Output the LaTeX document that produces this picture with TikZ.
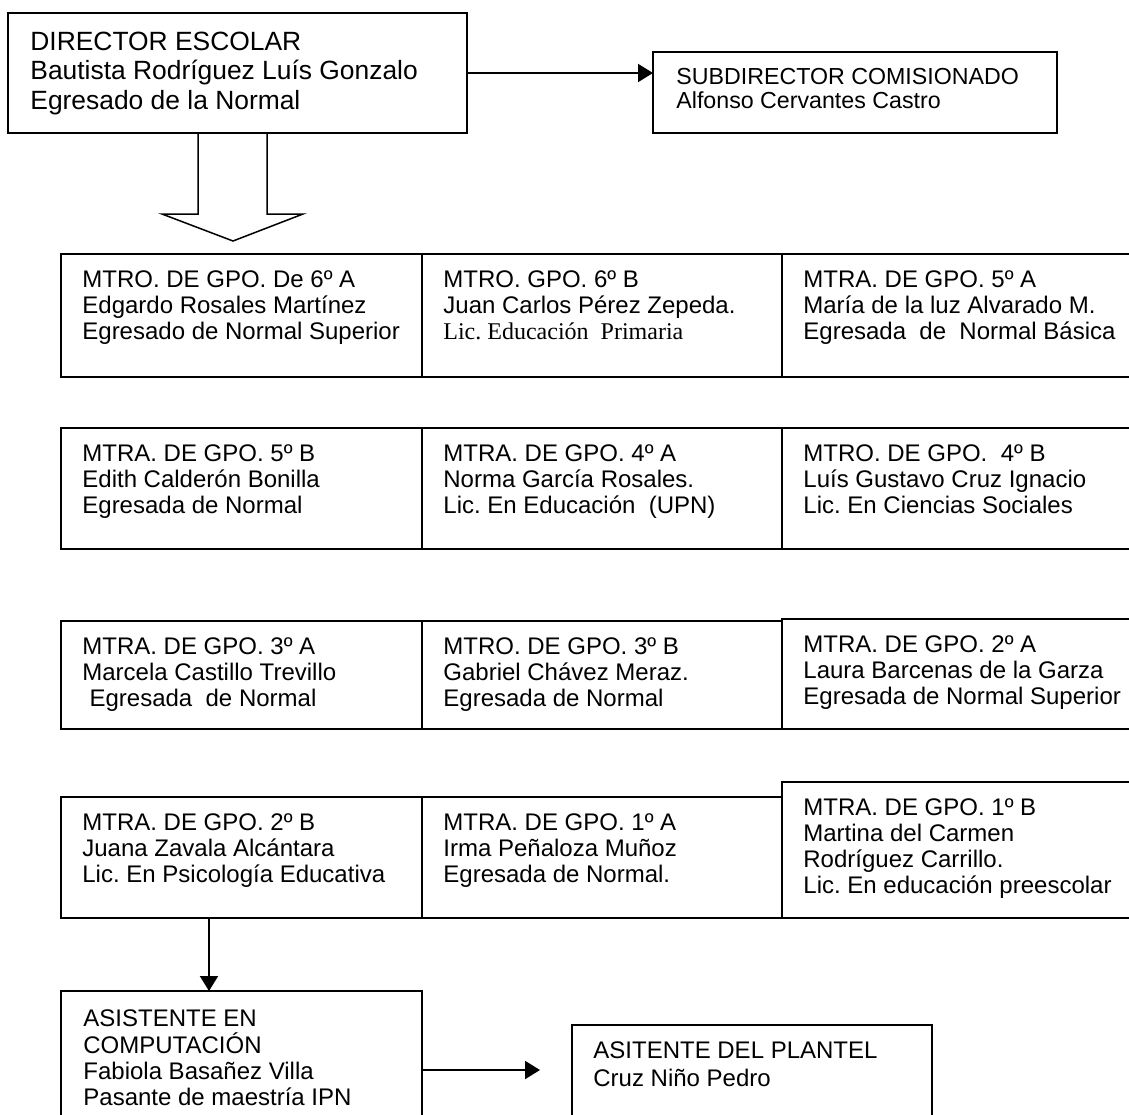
\documentclass[tikz,border=0pt]{standalone}
\usepackage{fontspec}
\setmainfont{Liberation Sans}
\newfontfamily\tnr{Liberation Serif}
\usetikzlibrary{arrows.meta}

\tikzset{
  cell/.style={draw, line width=1pt, anchor=north west, outer sep=0pt, inner sep=0pt},
  txt/.style={anchor=north west, inner sep=0pt, align=left},
  arr/.style={line width=1pt, -{Triangle[length=7.5pt,width=9pt]}},
}
% one group box: name, x, y, width, height, text
\newcommand\groupbox[6]{%
  \node[cell, minimum width=#4, minimum height=#5] (#1) at (#2,#3) {};
  \node[txt, font=\fontsize{12}{13}\selectfont] (#1-t) at (#2+21,#3+16) {#6};
}

\begin{document}
\frenchspacing
\begin{tikzpicture}[x=0.5pt, y=-0.5pt]
    \useasboundingbox (0,0) rectangle (1129,1114);
    % Director and subdirector
    \node[cell, minimum width=229.5pt, minimum height=60pt] (dir) at (8,13) {};
    \node[txt, font=\fontsize{13.2}{14.75}\selectfont] (dir-t) at (30,31.5)
        {DIRECTOR ESCOLAR\\Bautista Rodríguez Luís Gonzalo\\Egresado de la Normal};
    \node[cell, minimum width=202pt, minimum height=40.5pt] (sub) at (653,52) {};
    \node[txt, font=\fontsize{11.6}{12}\selectfont] (sub-t) at (676,67.5)
        {SUBDIRECTOR COMISIONADO\\Alfonso Cervantes Castro};
    \draw[arr] (dir.east) -- (dir.east -| sub.west);
    % Hollow arrow down to the groups
    \draw[line width=0.75pt] (198,133) -- (198,214) -- (162,214) -- (233,241)
        -- (303,214) -- (267,214) -- (267,133);
    % Teachers, one box per group
    \groupbox{c6a}{61}{254}{180.5pt}{61.5pt}{MTRO. DE GPO. De 6º A\\Edgardo Rosales Martínez\\Egresado de Normal Superior}
    \groupbox{c6b}{422}{254}{180pt}{61.5pt}{MTRO. GPO. 6º B\\Juan Carlos Pérez Zepeda.\\{\tnr Lic. Educación~ Primaria}}
    \groupbox{c5a}{782}{254}{177pt}{61.5pt}{MTRA. DE GPO. 5º A\\María de la luz Alvarado M.\\Egresada~ de~ Normal Básica}
    \groupbox{c5b}{61}{428}{180.5pt}{60.5pt}{MTRA. DE GPO. 5º B\\Edith Calderón Bonilla\\Egresada de Normal}
    \groupbox{c4a}{422}{428}{180pt}{60.5pt}{MTRA. DE GPO. 4º A\\Norma García Rosales.\\Lic. En Educación~ (UPN)}
    \groupbox{c4b}{782}{428}{177pt}{60.5pt}{MTRO. DE GPO.~ 4º B\\Luís Gustavo Cruz Ignacio\\Lic. En Ciencias Sociales}
    \groupbox{c3a}{61}{621}{180.5pt}{54pt}{MTRA. DE GPO. 3º A\\Marcela Castillo Trevillo\\\hspace*{.3em}Egresada~ de Normal}
    \groupbox{c3b}{422}{621}{180pt}{54pt}{MTRO. DE GPO. 3º B\\Gabriel Chávez Meraz.\\Egresada de Normal}
    \groupbox{c2a}{782}{619}{177pt}{55pt}{MTRA. DE GPO. 2º A\\Laura Barcenas de la Garza\\Egresada de Normal Superior}
    \groupbox{c2b}{61}{797}{180.5pt}{60.5pt}{MTRA. DE GPO. 2º B\\Juana Zavala Alcántara\\Lic. En Psicología Educativa}
    \groupbox{c1a}{422}{797}{180pt}{60.5pt}{MTRA. DE GPO. 1º A\\Irma Peñaloza Muñoz\\Egresada de Normal.}
    \groupbox{c1b}{782}{782}{177pt}{68pt}{MTRA. DE GPO. 1º B\\Martina del Carmen\\Rodríguez Carrillo.\\Lic. En educación preescolar}
    % Assistants
    \node[cell, minimum width=180.5pt, minimum height=64.5pt] (asis) at (61,991) {};
    \node[txt, font=\fontsize{12}{13.2}\selectfont] (asis-t) at (83,1009.5)
        {ASISTENTE EN\\COMPUTACIÓN\\Fabiola Basañez Villa\\Pasante de maestría IPN};
    \node[cell, minimum width=180pt, minimum height=47.5pt] (asit) at (572,1025) {};
    \node[txt, font=\fontsize{12}{13.8}\selectfont] (asit-t) at (593,1041.5)
        {ASITENTE DEL PLANTEL\\Cruz Niño Pedro};
    \coordinate (drop) at ([xshift=-16.25pt]c2b.south);
    \draw[arr] (drop) -- (drop |- asis.north);
    \coordinate (gap) at (540,1070);
    \draw[arr] (gap -| asis.east) -- (gap);
\end{tikzpicture}
\end{document}
